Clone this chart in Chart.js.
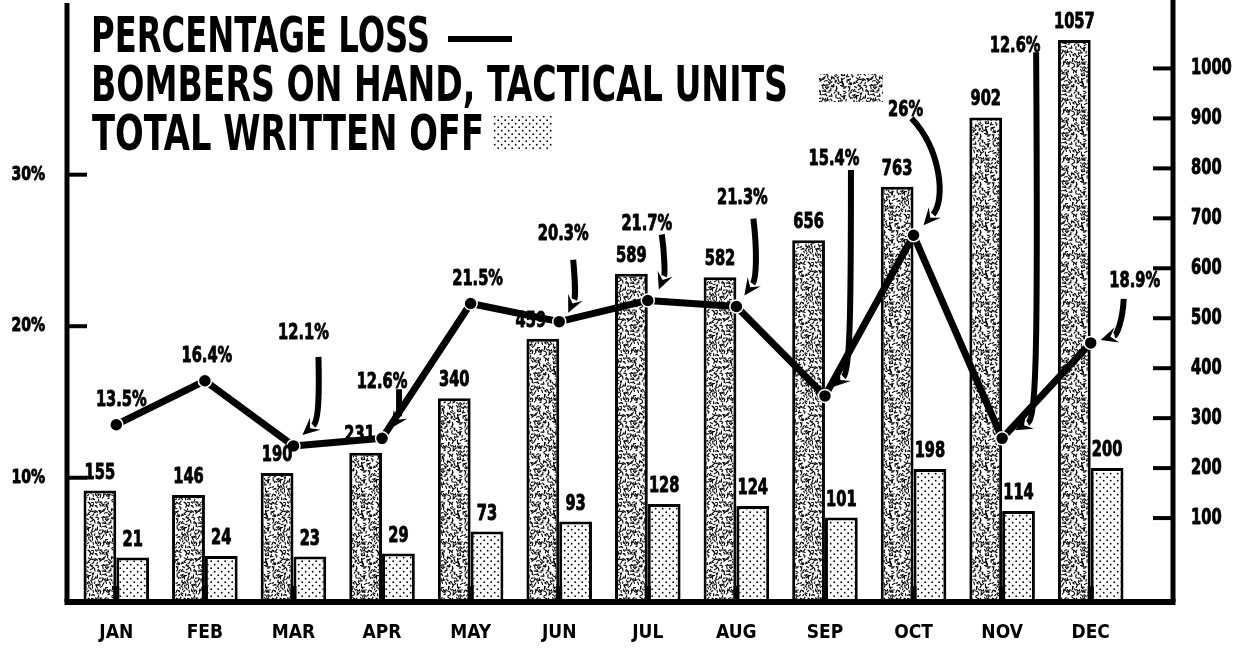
<!DOCTYPE html>
<html>
<head>
<meta charset="utf-8">
<title>Percentage loss and bombers on hand</title>
<script src="https://cdn.jsdelivr.net/npm/chart.js@4/dist/chart.umd.min.js"></script>
<style>
  html, body { margin: 0; padding: 0; background: #fff; }
  canvas { display: block; }
</style>
</head>
<body>
<canvas id="lossChart" width="1236" height="652"></canvas>
<script>
'use strict';

const months = ['JAN', 'FEB', 'MAR', 'APR', 'MAY', 'JUN', 'JUL', 'AUG', 'SEP', 'OCT', 'NOV', 'DEC'];
const pctLoss = [13.5, 16.4, 12.1, 12.6, 21.5, 20.3, 21.7, 21.3, 15.4, 26, 12.6, 18.9];
const bombersOnHand = [155, 146, 190, 231, 340, 459, 589, 582, 656, 763, 902, 1057];
const writtenOff = [21, 24, 23, 29, 73, 93, 128, 124, 101, 198, 114, 200];
const pctTicks = [10, 20, 30];
const unitTicks = [100, 200, 300, 400, 500, 600, 700, 800, 900, 1000];

// axis ranges: both value axes run a little below zero at the base line
const PCT_MIN = 1.8, PCT_MAX = 41;
const UNIT_MIN = -68, UNIT_MAX = 1121;

const FONT = "'DejaVu Sans Condensed', 'Liberation Sans Narrow', 'Arial Narrow', sans-serif";
const INK = '#000';
const SQUEEZE = 0.74;   // horizontal squeeze for the narrow lettering

// percentage label placement, from its point: [dx to text centre, dy to baseline]
const pctLabelOffset = [
  [5, -19], [2, -19], [10, -107], [0, -50], [7, -18], [4, -82],
  [-1, -70], [6, -103], [9, -231], [-8, -119], [13, -386], [44, -56]
];
// hand-drawn pointers from label to point: start, control 1, control 2, tip
const pctArrows = [
  null,
  null,
  [[25, -89], [26, -50], [25, -25], [9, -11]],
  [[17, -49], [17, -35], [17, -22], [9, -10]],
  null,
  [[14, -62], [16, -40], [16, -24], [9, -9]],
  [[14, -66], [17, -45], [17, -26], [11, -11]],
  [[17, -88], [21, -55], [20, -28], [8, -11]],
  [[26, -226], [26, -80], [25, -25], [8, -9]],
  [[-2, -117], [28, -85], [32, -35], [10, -10]],
  [[34, -386], [36, -80], [34, -20], [13, -8]],
  [[33, -44], [32, -22], [26, -8], [10, -3]]
];
// sideways nudge of the figure above each bombers bar, clear of the line
const bomberLabelDx = [0, 0, 0, -6, 0, -12, 0, 0, 0, 0, 0, 0];

const legendRows = [
  { text: 'PERCENTAGE LOSS', x: 91, baseline: 52, width: 339 },
  { text: 'BOMBERS ON HAND, TACTICAL UNITS', x: 91, baseline: 101, width: 697 },
  { text: 'TOTAL WRITTEN OFF', x: 92, baseline: 150, width: 392 }
];

const canvas = document.getElementById('lossChart');
const ctx2d = canvas.getContext('2d');

function seeded(seed) {
  let s = seed >>> 0;
  return () => (s = (s * 1664525 + 1013904223) >>> 0) / 4294967296;
}

// fine even speckle for the bombers-on-hand bars: one short dash per jittered cell
function speckle() {
  const n = 48, cell = 2.8;
  const tile = document.createElement('canvas');
  tile.width = tile.height = n;
  const c = tile.getContext('2d');
  c.fillStyle = '#fff';
  c.fillRect(0, 0, n, n);
  c.strokeStyle = INK;
  c.lineWidth = 1.1;
  c.lineCap = 'round';
  const rnd = seeded(1943);
  const cells = Math.floor(n / cell);
  const step = n / cells;
  for (let gy = 0; gy < cells; gy++) {
    for (let gx = 0; gx < cells; gx++) {
      if (rnd() < 0.1) continue;
      const x = (gx + rnd()) * step, y = (gy + rnd()) * step;
      const a = rnd() * Math.PI, l = 1.4 + rnd() * 1.8;
      for (const ox of [-n, 0, n]) {
        for (const oy of [-n, 0, n]) {
          c.beginPath();
          c.moveTo(x + ox, y + oy);
          c.lineTo(x + ox + Math.cos(a) * l, y + oy + Math.sin(a) * l);
          c.stroke();
        }
      }
    }
  }
  return ctx2d.createPattern(tile, 'repeat');
}

// halftone dots for the written-off bars
function dots() {
  const tile = document.createElement('canvas');
  tile.width = tile.height = 7;
  const c = tile.getContext('2d');
  c.fillStyle = '#fff';
  c.fillRect(0, 0, 7, 7);
  c.fillStyle = INK;
  [[1.2, 1.2], [4.7, 4.7]].forEach(([x, y]) => {
    c.beginPath();
    c.arc(x, y, 0.9, 0, Math.PI * 2);
    c.fill();
  });
  return ctx2d.createPattern(tile, 'repeat');
}

const speckleFill = speckle();
const dotFill = dots();

// narrow heavy lettering: bold glyphs squeezed sideways, with a hairline of ink round them
function narrowText(c, text, x, y, size, align, baseline, squeeze) {
  c.save();
  c.font = 'bold ' + size + 'px ' + FONT;
  c.translate(x, y);
  c.scale(squeeze, 1);
  c.textAlign = align;
  c.textBaseline = baseline;
  c.lineWidth = 0.9;
  c.lineJoin = 'round';
  c.strokeStyle = INK;
  c.fillText(text, 0, 0);
  c.strokeText(text, 0, 0);
  c.restore();
}

function fitText(c, text, x, baseline, width, size) {
  c.save();
  c.font = 'bold ' + size + 'px ' + FONT;
  const w = c.measureText(text).width;
  c.translate(x, baseline);
  c.scale(width / w, 1);
  c.textAlign = 'left';
  c.textBaseline = 'alphabetic';
  c.fillText(text, 0, 0);
  c.restore();
}

function drawPointer(c, px, py, spec) {
  const p = spec.map(([dx, dy]) => [px + dx, py + dy]);
  const [s, c1, c2, t] = p;
  let ux = t[0] - c2[0], uy = t[1] - c2[1];
  const len = Math.hypot(ux, uy) || 1;
  ux /= len; uy /= len;
  const head = 17, half = 8;
  const bx = t[0] - ux * head * 0.85, by = t[1] - uy * head * 0.85;
  c.beginPath();
  c.moveTo(s[0], s[1]);
  c.bezierCurveTo(c1[0], c1[1], c2[0], c2[1], bx, by);
  c.lineWidth = 6;
  c.lineCap = 'butt';
  c.stroke();
  const hx = t[0] - ux * head, hy = t[1] - uy * head;
  c.beginPath();
  c.moveTo(t[0], t[1]);
  c.lineTo(hx - uy * half, hy + ux * half);
  c.lineTo(t[0] - ux * head * 0.6, t[1] - uy * head * 0.6);
  c.lineTo(hx + uy * half, hy - ux * half);
  c.closePath();
  c.fill();
}

const inkPlugin = {
  id: 'ink',
  afterDatasetsDraw(chart) {
    const c = chart.ctx;
    const area = chart.chartArea;
    const xs = chart.scales.x, yp = chart.scales.yPct, yu = chart.scales.yUnits;
    const leftX = area.left - 5, rightX = area.right + 38;
    c.save();
    c.fillStyle = INK;
    c.strokeStyle = INK;

    // frame: two uprights and the base line
    c.fillRect(leftX - 2.5, 3, 5, area.bottom - 3);
    c.fillRect(rightX - 2.5, 0, 5, area.bottom);
    c.fillRect(leftX - 2.5, area.bottom - 3, rightX - leftX + 5, 6);

    // inward tick marks and their labels
    yp.ticks.forEach(t => {
      const y = yp.getPixelForValue(t.value);
      c.fillRect(leftX, y - 2, 20, 4);
      narrowText(c, t.value + '%', 45, y, 20, 'right', 'middle', 0.78);
    });
    yu.ticks.forEach(t => {
      const y = yu.getPixelForValue(t.value);
      c.fillRect(rightX - 20, y - 2, 20, 4);
      narrowText(c, String(t.value), rightX + 18, y, 22, 'left', 'middle', SQUEEZE);
    });
    months.forEach((m, i) => {
      const x = xs.getPixelForValue(i);
      c.fillRect(x - 3, area.bottom - 16, 6, 16);
    });

    // figures over the bars
    chart.getDatasetMeta(1).data.forEach((bar, i) => {
      narrowText(c, String(bombersOnHand[i]), bar.x + bomberLabelDx[i], bar.y - 12, 22, 'center', 'alphabetic', SQUEEZE);
    });
    chart.getDatasetMeta(2).data.forEach((bar, i) => {
      narrowText(c, String(writtenOff[i]), bar.x, bar.y - 12, 22, 'center', 'alphabetic', SQUEEZE);
    });

    // percentage labels and their pointers
    chart.getDatasetMeta(0).data.forEach((pt, i) => {
      const [dx, dy] = pctLabelOffset[i];
      narrowText(c, pctLoss[i] + '%', pt.x + dx, pt.y + dy, 22, 'center', 'alphabetic', SQUEEZE);
      if (pctArrows[i]) drawPointer(c, pt.x, pt.y, pctArrows[i]);
    });

    // key
    legendRows.forEach(r => fitText(c, r.text, r.x, r.baseline, r.width, 50));
    c.fillRect(448, 36, 64, 6);
    c.fillStyle = speckleFill;
    c.fillRect(819, 74, 64, 28);
    c.fillStyle = dotFill;
    c.fillRect(493, 116, 60, 35);
    c.restore();
  }
};

new Chart(canvas, {
  type: 'bar',
  data: {
    labels: months,
    datasets: [
      {
        type: 'line',
        label: 'Percentage loss',
        data: pctLoss,
        yAxisID: 'yPct',
        order: 0,
        borderColor: INK,
        borderWidth: 7,
        borderJoinStyle: 'round',
        tension: 0,
        pointRadius: 6.5,
        pointBackgroundColor: INK,
        pointBorderColor: '#fff',
        pointBorderWidth: 1.5
      },
      {
        label: 'Bombers on hand, tactical units',
        data: bombersOnHand,
        yAxisID: 'yUnits',
        base: UNIT_MIN,
        order: 1,
        backgroundColor: speckleFill,
        borderColor: INK,
        borderWidth: 3
      },
      {
        label: 'Total written off',
        data: writtenOff,
        yAxisID: 'yUnits',
        base: UNIT_MIN,
        order: 2,
        backgroundColor: dotFill,
        borderColor: INK,
        borderWidth: 3
      }
    ]
  },
  options: {
    responsive: false,
    animation: false,
    devicePixelRatio: 1,
    layout: { padding: { top: 5, left: 0, right: 0, bottom: 0 } },
    datasets: { bar: { categoryPercentage: 0.74, barPercentage: 1.0 } },
    plugins: {
      legend: { display: false },
      tooltip: { enabled: false }
    },
    scales: {
      x: {
        grid: { display: false },
        border: { display: false },
        ticks: {
          color: INK,
          font: { family: FONT, size: 19, weight: 'bold' },
          padding: 12,
          maxRotation: 0,
          autoSkip: false
        },
        afterFit: s => { s.height = 50; }
      },
      yPct: {
        position: 'left',
        min: PCT_MIN,
        max: PCT_MAX,
        grid: { display: false },
        border: { display: false },
        afterBuildTicks: s => { s.ticks = pctTicks.map(v => ({ value: v })); },
        ticks: { display: false },
        afterFit: s => { s.width = 72; }
      },
      yUnits: {
        position: 'right',
        min: UNIT_MIN,
        max: UNIT_MAX,
        grid: { display: false },
        border: { display: false },
        afterBuildTicks: s => { s.ticks = unitTicks.map(v => ({ value: v })); },
        ticks: { display: false },
        afterFit: s => { s.width = 101; }
      }
    }
  },
  plugins: [inkPlugin]
});
</script>
</body>
</html>
